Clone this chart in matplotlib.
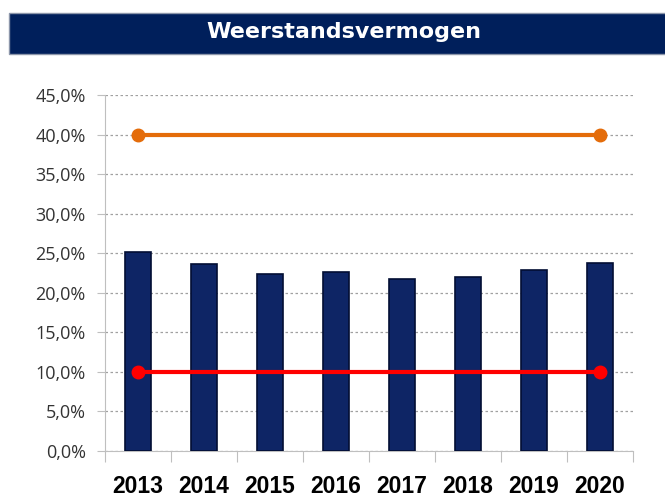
import matplotlib.pyplot as plt
from matplotlib.patches import Rectangle
from matplotlib.ticker import FuncFormatter, MultipleLocator

years = ["2013", "2014", "2015", "2016", "2017", "2018", "2019", "2020"]
ratio = [25.1, 23.6, 22.4, 22.6, 21.8, 22.0, 22.9, 23.8]
upper = [40.0, 40.0]
lower = [10.0, 10.0]

fig = plt.figure(figsize=(6.65, 4.97), dpi=100)

# title banner
fig.patches.append(Rectangle((0.0135, 0.891), 0.99, 0.083, transform=fig.transFigure,
                             facecolor="#001F5B", edgecolor="#8C96AA", lw=1))
fig.text(0.517, 0.935, "Weerstandsvermogen", color="white", fontsize=16, fontweight="bold",
         family="DejaVu Sans", ha="center", va="center")

ax = fig.add_axes([0.158, 0.0926, 0.794, 0.7163])
x = list(range(len(years)))
ax.bar(x, ratio, width=0.39, color="#0E2565", edgecolor="#020E33", lw=1.2, zorder=3)
ax.plot([x[0], x[-1]], upper, color="#E46C0A", lw=3, marker="o", ms=9, zorder=4)
ax.plot([x[0], x[-1]], lower, color="#FF0000", lw=3, marker="o", ms=9, zorder=4)

ax.set_xlim(-0.5, len(years) - 0.5)
ax.set_ylim(0, 45)
ax.yaxis.set_major_locator(MultipleLocator(5))
ax.yaxis.set_major_formatter(FuncFormatter(lambda v, p: f"{v:.1f}%".replace(".", ",")))
ax.grid(axis="y", color="#A0A0A0", ls=(0, (2, 2)), lw=0.9, zorder=0)

for s in ["top", "right"]:
    ax.spines[s].set_visible(False)
for s in ["left", "bottom"]:
    ax.spines[s].set_color("#BFBFBF")

ax.set_xticks([i + 0.5 for i in range(-1, len(years))], minor=False)
ax.set_xticklabels([])
ax.set_xticks(x, minor=True)
ax.set_xticklabels(years, minor=True, fontsize=16.5, fontweight="bold", family="Liberation Sans")
ax.tick_params(axis="x", which="major", length=8, color="#BFBFBF")
ax.tick_params(axis="x", which="minor", length=0, pad=17)
ax.tick_params(axis="y", length=6, color="#BFBFBF", labelsize=13, labelcolor="#333333", pad=8)
for t in ax.get_yticklabels():
    t.set_family("Open Sans")

fig.savefig("out.png", dpi=100)
